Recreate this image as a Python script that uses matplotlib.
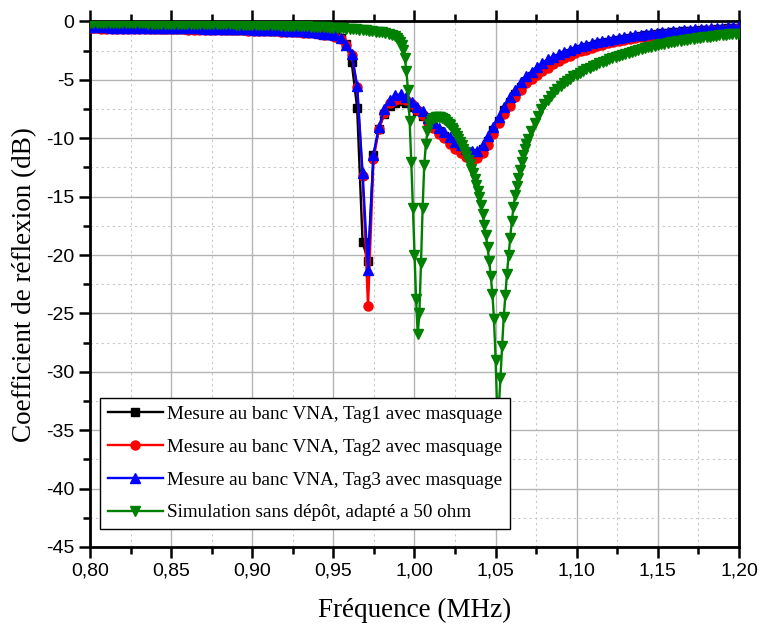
import numpy as np
import matplotlib
matplotlib.use("Agg")
import matplotlib.pyplot as plt
from matplotlib.ticker import MultipleLocator, FuncFormatter

# ---------------- data ----------------
# measured sweep grid (VNA)
freq_meas = np.round(0.8 + 0.00336 * np.arange(120), 5)

tag1 = [
    -0.55, -0.55, -0.56, -0.56, -0.57, -0.57, -0.58, -0.58, -0.59, -0.59,
    -0.60, -0.60, -0.61, -0.61, -0.62, -0.62, -0.63, -0.63, -0.64, -0.65,
    -0.65, -0.66, -0.67, -0.67, -0.68, -0.69, -0.70, -0.71, -0.72, -0.73,
    -0.74, -0.75, -0.76, -0.78, -0.79, -0.81, -0.83, -0.85, -0.87, -0.90,
    -0.93, -0.97, -1.02, -1.08, -1.15, -1.25, -1.45, -1.95, -3.5, -7.4,
    -18.9, -20.5, -11.4, -9.2, -7.9, -7.2, -6.95, -6.85, -6.95, -7.3,
    -7.7, -8.1, -8.6, -9.0, -9.4, -9.8, -10.2, -10.6, -10.9, -11.2,
    -11.45, -11.3, -10.9, -10.2, -9.3, -8.5, -7.6, -6.9, -6.2, -5.6,
    -5.1, -4.7, -4.3, -3.95, -3.65, -3.35, -3.1, -2.9, -2.7, -2.5,
    -2.35, -2.2, -2.07, -1.95, -1.84, -1.74, -1.64, -1.55, -1.47, -1.39,
    -1.32, -1.25, -1.19, -1.13, -1.07, -1.02, -0.97, -0.93, -0.89, -0.85,
    -0.81, -0.78, -0.75, -0.72, -0.69, -0.66, -0.63, -0.60, -0.57, -0.54,
]

tag2 = [
    -0.60, -0.60, -0.61, -0.61, -0.62, -0.62, -0.63, -0.63, -0.64, -0.64,
    -0.65, -0.65, -0.66, -0.66, -0.67, -0.67, -0.68, -0.68, -0.69, -0.70,
    -0.70, -0.71, -0.72, -0.72, -0.73, -0.74, -0.75, -0.76, -0.77, -0.78,
    -0.79, -0.80, -0.81, -0.83, -0.84, -0.86, -0.88, -0.90, -0.92, -0.95,
    -0.98, -1.02, -1.07, -1.13, -1.20, -1.30, -1.50, -2.00, -2.90, -5.6,
    -13.2, -24.4, -11.8, -9.2, -7.8, -7.0, -6.7, -6.6, -6.7, -7.1,
    -7.6, -8.0, -8.6, -9.1, -9.6, -10.0, -10.5, -10.9, -11.3, -11.6,
    -11.85, -11.7, -11.3, -10.6, -9.6, -8.7, -7.9, -7.2, -6.5, -5.9,
    -5.3, -4.95, -4.6, -4.25, -3.95, -3.65, -3.4, -3.15, -2.93, -2.73,
    -2.55, -2.4, -2.25, -2.12, -2.0, -1.88, -1.78, -1.68, -1.6, -1.52,
    -1.44, -1.37, -1.3, -1.24, -1.18, -1.13, -1.08, -1.03, -0.99, -0.95,
    -0.91, -0.87, -0.83, -0.80, -0.77, -0.73, -0.69, -0.65, -0.61, -0.57,
]

tag3 = [
    -0.50, -0.50, -0.51, -0.51, -0.52, -0.52, -0.53, -0.53, -0.54, -0.54,
    -0.55, -0.55, -0.56, -0.56, -0.57, -0.57, -0.58, -0.58, -0.59, -0.60,
    -0.60, -0.61, -0.62, -0.62, -0.63, -0.64, -0.65, -0.66, -0.67, -0.68,
    -0.69, -0.70, -0.71, -0.73, -0.74, -0.76, -0.78, -0.80, -0.82, -0.85,
    -0.88, -0.92, -0.97, -1.03, -1.10, -1.20, -1.45, -2.0, -2.75, -5.5,
    -13.0, -21.3, -11.4, -9.0, -7.5, -6.7, -6.3, -6.25, -6.5, -6.9,
    -7.3, -7.7, -8.25, -8.7, -9.1, -9.5, -9.9, -10.3, -10.6, -10.9,
    -11.05, -11.1, -10.6, -9.8, -9.0, -8.2, -7.3, -6.5, -5.9, -5.2,
    -4.7, -4.3, -3.9, -3.55, -3.25, -3.0, -2.8, -2.6, -2.42, -2.26,
    -2.1, -1.98, -1.86, -1.75, -1.65, -1.55, -1.47, -1.39, -1.32, -1.25,
    -1.18, -1.12, -1.06, -1.0, -0.95, -0.9, -0.86, -0.82, -0.78, -0.74,
    -0.70, -0.67, -0.64, -0.61, -0.58, -0.55, -0.52, -0.49, -0.46, -0.43,
]

# simulation sweep grid
freq_sim = np.round(np.concatenate([
    np.linspace(0.800, 0.988, 95),
    np.linspace(0.989, 1.070, 82),
    np.linspace(1.072, 1.200, 65),
]), 4)

sim = [
    -0.15, -0.15, -0.15, -0.15, -0.15, -0.16, -0.16, -0.16, -0.16, -0.16,
    -0.16, -0.16, -0.17, -0.17, -0.17, -0.17, -0.17, -0.17, -0.18, -0.18,
    -0.18, -0.18, -0.18, -0.18, -0.19, -0.19, -0.19, -0.19, -0.20, -0.20,
    -0.20, -0.20, -0.21, -0.21, -0.21, -0.22, -0.22, -0.22, -0.23, -0.23,
    -0.23, -0.24, -0.24, -0.25, -0.25, -0.26, -0.26, -0.27, -0.27, -0.28,
    -0.28, -0.29, -0.29, -0.30, -0.31, -0.31, -0.32, -0.33, -0.34, -0.35,
    -0.35, -0.36, -0.37, -0.38, -0.39, -0.40, -0.41, -0.42, -0.44, -0.45,
    -0.46, -0.48, -0.49, -0.51, -0.52, -0.54, -0.56, -0.58, -0.60, -0.62,
    -0.64, -0.66, -0.68, -0.71, -0.73, -0.76, -0.79, -0.82, -0.86, -0.90,
    -0.94, -0.99, -1.05, -1.13, -1.25,
    # 0.989 .. 1.070
    -1.45, -1.6, -1.8, -2.05, -2.45, -3.1, -4.2, -5.9, -8.5, -12.0,
    -16.0, -20.0, -23.8, -26.8, -25.0, -20.7, -16.0, -12.3, -10.5, -9.4,
    -8.8, -8.5, -8.35, -8.25, -8.2, -8.2, -8.2, -8.22, -8.26, -8.35,
    -8.45, -8.6, -8.75, -8.9, -9.1, -9.3, -9.55, -9.8, -10.05, -10.3,
    -10.6, -10.9, -11.2, -11.5, -11.85, -12.2, -12.6, -13.0, -13.5, -14.0,
    -14.5, -15.0, -15.7, -16.5, -17.4, -18.3, -19.3, -20.5, -21.8, -23.3,
    -25.5, -29.0, -33.5, -33.0, -30.5, -27.8, -25.3, -23.4, -21.6, -20.0,
    -18.5, -17.1, -15.9, -14.9, -14.1, -13.4, -12.7, -12.0, -11.4, -10.9,
    -10.5, -10.1,
    # 1.072 .. 1.200
    -9.4, -8.7, -8.1, -7.5, -7.1, -6.7, -6.35, -6.05, -5.8, -5.55,
    -5.3, -5.1, -4.9, -4.7, -4.55, -4.4, -4.25, -4.1, -3.95, -3.82,
    -3.7, -3.58, -3.46, -3.35, -3.25, -3.15, -3.05, -2.95, -2.86, -2.77,
    -2.68, -2.6, -2.52, -2.44, -2.36, -2.29, -2.22, -2.15, -2.09, -2.03,
    -1.97, -1.91, -1.85, -1.8, -1.75, -1.7, -1.65, -1.6, -1.56, -1.52,
    -1.48, -1.44, -1.4, -1.36, -1.32, -1.29, -1.26, -1.23, -1.2, -1.17,
    -1.14, -1.11, -1.08, -1.06, -1.03,
]

labels = [
    "Mesure au banc VNA, Tag1 avec masquage",
    "Mesure au banc VNA, Tag2 avec masquage",
    "Mesure au banc VNA, Tag3 avec masquage",
    "Simulation sans dépôt, adapté a 50 ohm",
]

# ---------------- plot ----------------
fig = plt.figure(figsize=(7.63, 6.28), dpi=100)
ax = fig.add_axes([0.118, 0.129, 0.8505, 0.8368])

ax.plot(freq_meas, tag1, color="black", lw=1.7, marker="s", ms=5.5, label=labels[0], zorder=3)
ax.plot(freq_meas, tag2, color="red", lw=1.7, marker="o", ms=6.5, label=labels[1], zorder=4)
ax.plot(freq_meas, tag3, color="blue", lw=1.7, marker="^", ms=6.5, label=labels[2], zorder=5)
ax.plot(freq_sim, sim, color="green", lw=1.7, marker="v", ms=6.5, label=labels[3], zorder=6)

ax.set_xlim(0.8, 1.2)
ax.set_ylim(-45, 0)

ax.xaxis.set_major_locator(MultipleLocator(0.05))
ax.xaxis.set_minor_locator(MultipleLocator(0.025))
ax.yaxis.set_major_locator(MultipleLocator(5))
ax.yaxis.set_minor_locator(MultipleLocator(2.5))
ax.xaxis.set_major_formatter(FuncFormatter(lambda v, p: f"{v:.2f}".replace(".", ",")))
ax.yaxis.set_major_formatter(FuncFormatter(lambda v, p: f"{v:.0f}".replace("−", "-")))

ax.grid(which="major", color="#b4b4b4", lw=1.0, ls="-", zorder=0)
ax.grid(which="minor", color="#c8c8c8", lw=0.8, ls=(0, (2, 3)), zorder=0)
ax.set_axisbelow(True)

for s in ax.spines.values():
    s.set_linewidth(2.0)

ax.tick_params(which="both", direction="out", top=True, right=False,
               width=1.8, labelsize=14, labelfontfamily="Liberation Sans")
ax.tick_params(which="major", length=8)
ax.tick_params(which="minor", length=5)

ax.set_xlabel("Fréquence (MHz)", fontsize=19.5, family="Liberation Serif", labelpad=13)
ax.set_ylabel("Coefficient de réflexion (dB)", fontsize=19.5, family="Liberation Serif", labelpad=6)

leg = ax.legend(loc="lower left", bbox_to_anchor=(0.0154, 0.034), borderaxespad=0,
                fancybox=False, edgecolor="black", framealpha=1.0,
                borderpad=0.4, handlelength=2.9, handletextpad=0.2,
                labelspacing=0.8,
                prop={"family": "Liberation Serif", "size": 13.8})
leg.get_frame().set_linewidth(1.0)
leg.set_zorder(10)

fig.savefig("out.png", dpi=100)
